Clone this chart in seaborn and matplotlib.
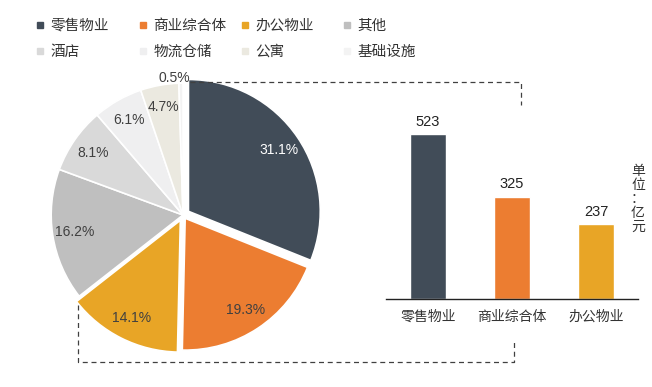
import matplotlib.pyplot as plt
import numpy as np
import seaborn as sns
from matplotlib.lines import Line2D

# pie shares (%), clockwise from 12 o'clock
pie_labels = ["零售物业", "商业综合体", "办公物业", "其他", "酒店", "物流仓储", "公寓", "基础设施"]
pie_shares = [31.1, 19.3, 14.1, 16.2, 8.1, 6.1, 4.7, 0.5]
pie_colors = ["#414c58", "#ec7d31", "#e8a526", "#bfbfbf", "#d9d9d9", "#efeff0", "#ebe9e0", "#f3f3f3"]

# bar values (亿元)
bar_cats = ["零售物业", "商业综合体", "办公物业"]
bar_vals = [523, 325, 237]

W, H = 652, 387
TXT = "#404040"

sns.set_theme(style="white")
plt.rcParams["font.family"] = ["Liberation Sans", "Noto Sans CJK SC"]

fig = plt.figure(figsize=(W / 100, H / 100), dpi=100)

# ---- pie ----
ax_pie = fig.add_axes([38 / W, 27 / H, 290 / W, 290 / H])
wedges, texts, autotexts = ax_pie.pie(
    pie_shares,
    colors=pie_colors,
    startangle=90,
    counterclock=False,
    explode=[0.05, 0.03, 0.045, 0, 0, 0, 0, 0],
    autopct="%.1f%%",
    pctdistance=0.83,
    wedgeprops={"edgecolor": "white", "linewidth": 1.2},
    textprops={"fontsize": 10, "color": TXT},
)
autotexts[0].set_color("white")
# tiny slice: label just outside the rim
w = wedges[-1]
ang = np.deg2rad((w.theta1 + w.theta2) / 2)
autotexts[-1].set_position((1.04 * np.cos(ang) - 0.05, 1.04 * np.sin(ang)))
ax_pie.set_xlim(-1.1, 1.1)
ax_pie.set_ylim(-1.1, 1.1)
ax_pie.set_aspect("equal")
ax_pie.axis("off")

# ---- legend (4 columns x 2 rows) ----
col_x = [36, 139, 241, 343]
for c in range(4):
    handles = [
        Line2D([], [], marker="s", linestyle="none", markersize=5,
               color=pie_colors[c + 4 * r], label=pie_labels[c + 4 * r])
        for r in range(2)
    ]
    fig.legend(
        handles=handles,
        loc="upper left",
        bbox_to_anchor=(col_x[c] / W, 1 - 19 / H),
        frameon=False,
        fontsize=10.5,
        handlelength=0.6,
        handletextpad=0.4,
        labelspacing=0.8,
        borderpad=0,
        borderaxespad=0,
        labelcolor="#333333",
    )

# ---- bars ----
ax_bar = fig.add_axes([386 / W, 88 / H, 252 / W, 189 / H])
sns.barplot(x=bar_cats, y=bar_vals, hue=bar_cats, palette=pie_colors[:3],
            width=0.44, legend=False, ax=ax_bar, saturation=1)
for cont in ax_bar.containers:
    ax_bar.bar_label(cont, padding=4, fontsize=10.5, color="#222222")
ax_bar.set_xlim(-0.5, 2.5)
ax_bar.set_ylim(0, 600)
ax_bar.set_yticks([])
sns.despine(ax=ax_bar, left=True)
ax_bar.spines["bottom"].set_color("#222222")
ax_bar.spines["bottom"].set_linewidth(1.0)
ax_bar.tick_params(axis="x", length=0, pad=8, labelsize=10, labelcolor="#333333")
ax_bar.text(1.0, 0.53, "单\n位\n：\n亿\n元", transform=ax_bar.transAxes,
            ha="center", va="center", fontsize=10, linespacing=0.98, color="#333333")

# ---- dashed connectors ----
def dashed(xs, ys):
    fig.add_artist(Line2D(np.array(xs) / W, 1 - np.array(ys) / H,
                          transform=fig.transFigure, color="#404040",
                          linewidth=0.9, linestyle=(0, (4, 3))))

dashed([190, 521, 521], [82, 82, 105])
dashed([78, 78, 514, 514], [305, 362, 362, 342])

fig.savefig("out.png", dpi=100)
